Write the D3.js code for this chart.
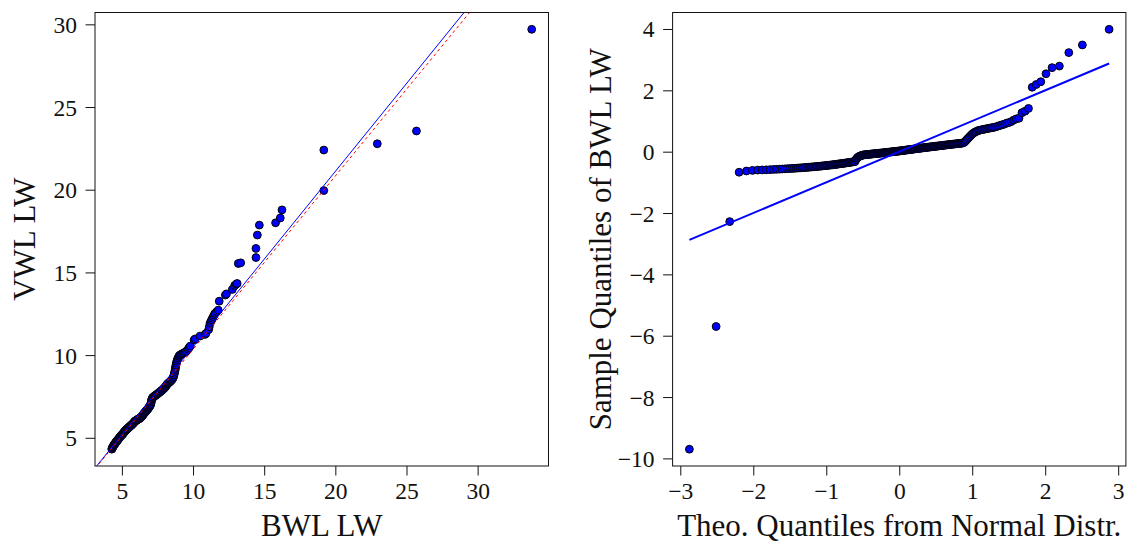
<!DOCTYPE html>
<html><head><meta charset="utf-8">
<script src="https://cdn.jsdelivr.net/npm/d3@7"></script>
<style>
body{margin:0;background:#fff}
svg{display:block}
text{font-family:"Liberation Serif","Times New Roman",serif;fill:#111}
</style>
</head><body><svg id="c" width="1128" height="543"></svg>
<script>
// ---------- Left panel: QQ plot BWL LW vs VWL LW (sorted samples) ----------
const bwlLW = [
 4.29,4.31,4.33,4.36,4.38,4.40,4.43,4.45,4.48,4.50,4.53,4.56,4.58,4.61,4.64,4.67,4.70,4.73,4.76,4.79,4.82,4.86,4.90,4.94,4.98,
 5.02,5.05,5.08,5.11,5.14,5.17,5.20,5.23,5.26,5.29,5.32,5.35,5.38,5.41,5.44,5.47,5.50,5.53,5.56,5.59,5.62,5.65,5.68,5.71,5.74,5.77,5.80,5.82,5.85,5.88,5.90,5.93,5.95,5.97,5.99,
 6.02,6.05,6.08,6.11,6.14,6.17,6.20,6.24,6.28,6.31,6.35,6.38,6.42,6.45,6.49,6.52,6.56,6.59,6.63,6.66,6.70,6.73,6.77,6.80,6.84,6.87,6.90,6.93,6.96,6.99,
 7.02,7.04,7.06,7.08,7.10,7.12,7.15,7.18,7.22,7.26,7.30,7.35,7.40,7.45,7.50,7.55,7.60,7.65,7.70,7.75,7.80,7.85,7.90,7.95,7.99,
 8.04,8.08,8.12,8.16,8.20,8.25,8.30,8.35,8.40,8.45,8.50,8.55,8.60,8.63,8.66,8.69,8.72,8.74,8.76,8.78,8.80,8.83,8.86,8.90,8.95,
 9.00,9.05,9.12,9.20,9.28,9.37,9.46,9.55,9.65,9.72,
 9.80,10.07,10.15,10.49,10.84,10.91,11.10,11.14,11.19,11.25,11.30,11.36,11.42,11.48,11.54,11.66,11.77,11.84,12.27,12.35,
 12.76,12.92,13.02,13.10,13.18,13.35,14.42,14.42,14.52,14.66,15.80,16.13,16.25,19.19,19.19,22.95,25.70,33.80
];
const vwlLW = [
 4.31,4.36,4.40,4.44,4.47,4.50,4.54,4.57,4.61,4.63,4.67,4.71,4.73,4.76,4.80,4.83,4.86,4.89,4.93,4.96,5.00,5.04,5.08,5.13,5.17,
 5.19,5.22,5.26,5.29,5.33,5.36,5.40,5.42,5.45,5.47,5.50,5.52,5.54,5.57,5.59,5.61,5.64,5.66,5.69,5.71,5.73,5.75,5.78,5.80,5.83,5.85,5.88,5.90,5.93,5.96,5.98,6.00,6.02,6.03,6.04,
 6.06,6.08,6.09,6.11,6.12,6.14,6.15,6.17,6.20,6.22,6.25,6.28,6.31,6.35,6.40,6.44,6.48,6.51,6.55,6.58,6.62,6.65,6.69,6.72,6.76,6.80,6.84,6.88,6.92,6.96,
 7.00,7.08,7.16,7.24,7.31,7.36,7.41,7.44,7.47,7.50,7.53,7.56,7.59,7.62,7.65,7.69,7.72,7.76,7.79,7.83,7.86,7.90,7.94,7.98,8.02,
 8.06,8.11,8.16,8.21,8.26,8.30,8.33,8.37,8.41,8.45,8.49,8.55,8.62,8.70,8.80,8.90,9.00,9.10,9.20,9.30,9.40,9.52,9.63,9.73,9.83,
 9.92,9.98,10.02,10.06,10.10,10.14,10.19,10.25,10.35,10.45,
 10.54,10.91,10.98,11.15,11.25,11.31,11.55,11.71,11.92,12.02,12.12,12.22,12.32,12.42,12.52,12.62,12.72,13.26,13.63,13.70,
 13.97,14.20,14.28,14.33,15.54,15.58,15.90,16.45,17.26,17.86,18.00,18.29,18.78,19.95,22.40,22.78,23.55,29.70
];
const leftXTicks = [5,10,15,20,25,30];
const leftYTicks = [5,10,15,20,25,30];
const leftXLabel = "BWL LW";
const leftYLabel = "VWL LW";
const lineBlue = {intercept:-0.13, slope:1.062};   // solid blue
const lineRed  = {intercept:-0.13, slope:1.048};   // dashed red

// ---------- Right panel: normal QQ plot ----------
const sampleQuantiles = [
 -9.70,-5.70,-2.28,-0.67,-0.63,-0.61,
 -0.600,-0.595,-0.590,-0.585,-0.580,-0.575,-0.570,-0.565,-0.560,-0.555,-0.550,
 -0.546,-0.542,-0.538,-0.533,-0.529,-0.525,-0.520,-0.516,-0.512,-0.507,-0.503,-0.499,-0.494,-0.490,-0.486,-0.481,-0.477,-0.473,-0.468,-0.464,-0.460,-0.455,-0.451,
 -0.446,-0.442,-0.437,-0.433,-0.428,-0.423,-0.419,-0.414,-0.410,-0.405,-0.400,-0.396,-0.391,-0.387,-0.382,-0.377,-0.373,-0.368,-0.364,-0.359,-0.354,-0.350,-0.345,-0.341,-0.336,-0.331,-0.327,-0.322,
 -0.26,-0.22,-0.19,-0.17,-0.15,-0.14,-0.13,-0.12,-0.11,
 -0.105,-0.102,-0.099,-0.096,-0.093,-0.090,-0.088,-0.085,-0.082,-0.079,-0.076,-0.074,-0.071,-0.068,-0.065,-0.062,-0.060,-0.057,-0.054,-0.052,-0.050,-0.048,
 -0.045,-0.042,-0.040,-0.037,-0.034,-0.031,-0.029,-0.026,-0.023,-0.020,-0.018,-0.015,-0.012,-0.009,-0.007,-0.004,-0.001,0.002,0.004,0.007,0.010,0.013,0.015,0.018,0.021,
 0.024,0.027,0.030,0.034,0.037,0.040,0.043,0.047,0.050,0.053,0.056,0.060,0.063,0.066,0.069,0.073,0.076,0.079,0.082,0.086,0.089,0.092,0.095,0.099,0.102,0.105,0.108,0.112,
 0.115,0.118,0.121,0.125,0.128,0.131,0.134,0.138,0.141,0.144,0.147,0.151,0.154,0.157,0.160,0.164,0.167,0.170,0.173,0.177,0.180,0.183,0.186,0.190,0.193,0.196,0.199,0.203,
 0.207,0.211,0.215,0.218,0.222,0.226,0.229,0.233,0.237,0.240,0.244,0.248,0.251,0.255,0.259,0.262,0.266,0.270,0.273,0.277,0.281,
 0.30,0.33,0.37,0.41,0.45,0.49,0.53,0.57,
 0.60,0.63,0.65,0.67,0.69,0.70,
 0.71,0.72,0.73,0.74,0.75,0.76,0.77,0.78,0.79,0.80,0.82,
 0.84,0.86,0.88,0.90,0.93,0.95,0.98,
 1.03,1.07,1.09,1.27,1.32,1.41,
 2.10,2.19,2.28,2.54,2.74,2.79,3.23,3.48,3.99
];
const rightXTicks = [-3,-2,-1,0,1,2,3];
const rightYTicks = [-10,-8,-6,-4,-2,0,2,4];
const rightXLabel = "Theo. Quantiles from Normal Distr.";
const rightYLabel = "Sample Quantiles of BWL LW";
const qqLine = {intercept:0.0, slope:1.0};

// ---------- helpers ----------
function qnorm(p){ // Acklam inverse normal CDF
  const a=[-3.969683028665376e+01,2.209460984245205e+02,-2.759285104469687e+02,1.383577518672690e+02,-3.066479806614716e+01,2.506628277459239e+00];
  const b=[-5.447609879822406e+01,1.615858368580409e+02,-1.556989798598866e+02,6.680131188771972e+01,-1.328068155288572e+01];
  const c=[-7.784894002430293e-03,-3.223964580411365e-01,-2.400758277161838e+00,-2.549732539343734e+00,4.374664141464968e+00,2.938163982698783e+00];
  const d=[7.784695709041462e-03,3.224671290700398e-01,2.445134137142996e+00,3.754408661907416e+00];
  const pl=0.02425, ph=1-pl; let q,r;
  if(p<pl){q=Math.sqrt(-2*Math.log(p));return (((((c[0]*q+c[1])*q+c[2])*q+c[3])*q+c[4])*q+c[5])/((((d[0]*q+d[1])*q+d[2])*q+d[3])*q+1);}
  if(p<=ph){q=p-0.5;r=q*q;return (((((a[0]*r+a[1])*r+a[2])*r+a[3])*r+a[4])*r+a[5])*q/(((((b[0]*r+b[1])*r+b[2])*r+b[3])*r+b[4])*r+1);}
  q=Math.sqrt(-2*Math.log(1-p));return -(((((c[0]*q+c[1])*q+c[2])*q+c[3])*q+c[4])*q+c[5])/((((d[0]*q+d[1])*q+d[2])*q+d[3])*q+1);
}
function rDomain(vals){const e=d3.extent(vals),r=e[1]-e[0];return [e[0]-0.04*r,e[1]+0.04*r];}

const svg = d3.select("#c");
const TICK=9.5, TICKFS=23.5, TITLEFS=31, R=3.9;
const fmt = d3.format("d");

function panel(o){
  const g = svg.append("g");
  const x = d3.scaleLinear().domain(rDomain(o.xs)).range([o.x0,o.x1]);
  const y = d3.scaleLinear().domain(rDomain(o.ys)).range([o.y1,o.y0]);
  const cid = "clip"+o.id;
  svg.append("clipPath").attr("id",cid).append("rect")
    .attr("x",o.x0).attr("y",o.y0).attr("width",o.x1-o.x0).attr("height",o.y1-o.y0);
  // axes
  const ax = g.append("g").attr("transform",`translate(0,${o.y1})`)
    .call(d3.axisBottom(x).tickValues(o.xt).tickFormat(fmt).tickSize(TICK).tickPadding(7).tickSizeOuter(0));
  const ay = g.append("g").attr("transform",`translate(${o.x0},0)`)
    .call(d3.axisLeft(y).tickValues(o.yt).tickFormat(fmt).tickSize(TICK).tickPadding(8.5).tickSizeOuter(0));
  [ax,ay].forEach(a=>{
    a.attr("font-family",null).attr("font-size",null);
    a.select(".domain").remove();
    a.selectAll("line").attr("stroke","#111").attr("stroke-width",1);
    a.selectAll("text").attr("font-size",TICKFS).attr("fill","#111");
  });
  ay.selectAll("text").attr("dy","0.34em");
  // points
  const pts = o.xs.map((v,i)=>[v,o.ys[i]]);
  g.append("g").selectAll("circle").data(pts).join("circle")
    .attr("cx",d=>x(d[0])).attr("cy",d=>y(d[1])).attr("r",R)
    .attr("fill","#0000ff").attr("stroke","#000").attr("stroke-width",1);
  // lines
  const lg = g.append("g").attr("clip-path",`url(#${cid})`);
  o.lines.forEach(L=>{
    const xa = L.from!==undefined?L.from:x.domain()[0], xb = L.to!==undefined?L.to:x.domain()[1];
    lg.append("line").attr("x1",x(xa)).attr("y1",y(L.intercept+L.slope*xa))
      .attr("x2",x(xb)).attr("y2",y(L.intercept+L.slope*xb))
      .attr("stroke",L.color).attr("stroke-width",L.w).attr("stroke-dasharray",L.dash||null);
  });
  // box
  g.append("rect").attr("x",o.x0).attr("y",o.y0).attr("width",o.x1-o.x0).attr("height",o.y1-o.y0)
    .attr("fill","none").attr("stroke","#111").attr("stroke-width",1);
  // titles
  g.append("text").attr("x",(o.x0+o.x1)/2).attr("y",536).attr("text-anchor","middle")
    .attr("font-size",TITLEFS).text(o.xl);
  g.append("text").attr("transform",`translate(${o.ylx},${(o.y0+o.y1)/2}) rotate(-90)`)
    .attr("text-anchor","middle").attr("font-size",TITLEFS).text(o.yl);
}

panel({id:"L", xs:bwlLW, ys:vwlLW, x0:95, x1:548.5, y0:12.5, y1:466,
  xt:leftXTicks, yt:leftYTicks, xl:leftXLabel, yl:leftYLabel, ylx:35,
  lines:[Object.assign({color:"#0000ff",w:1},lineBlue), Object.assign({color:"#ff0000",w:1,dash:"3,3"},lineRed)]});

const n = sampleQuantiles.length;
const theo = sampleQuantiles.map((v,i)=>qnorm((i+1-0.5)/n));
panel({id:"R", xs:theo, ys:sampleQuantiles, x0:672.6, x1:1125.9, y0:12.5, y1:466,
  xt:rightXTicks, yt:rightYTicks, xl:rightXLabel, yl:rightYLabel, ylx:611,
  lines:[Object.assign({color:"#0000ff",w:2,from:theo[0],to:theo[n-1]},qqLine)]});
</script>
</body></html>
